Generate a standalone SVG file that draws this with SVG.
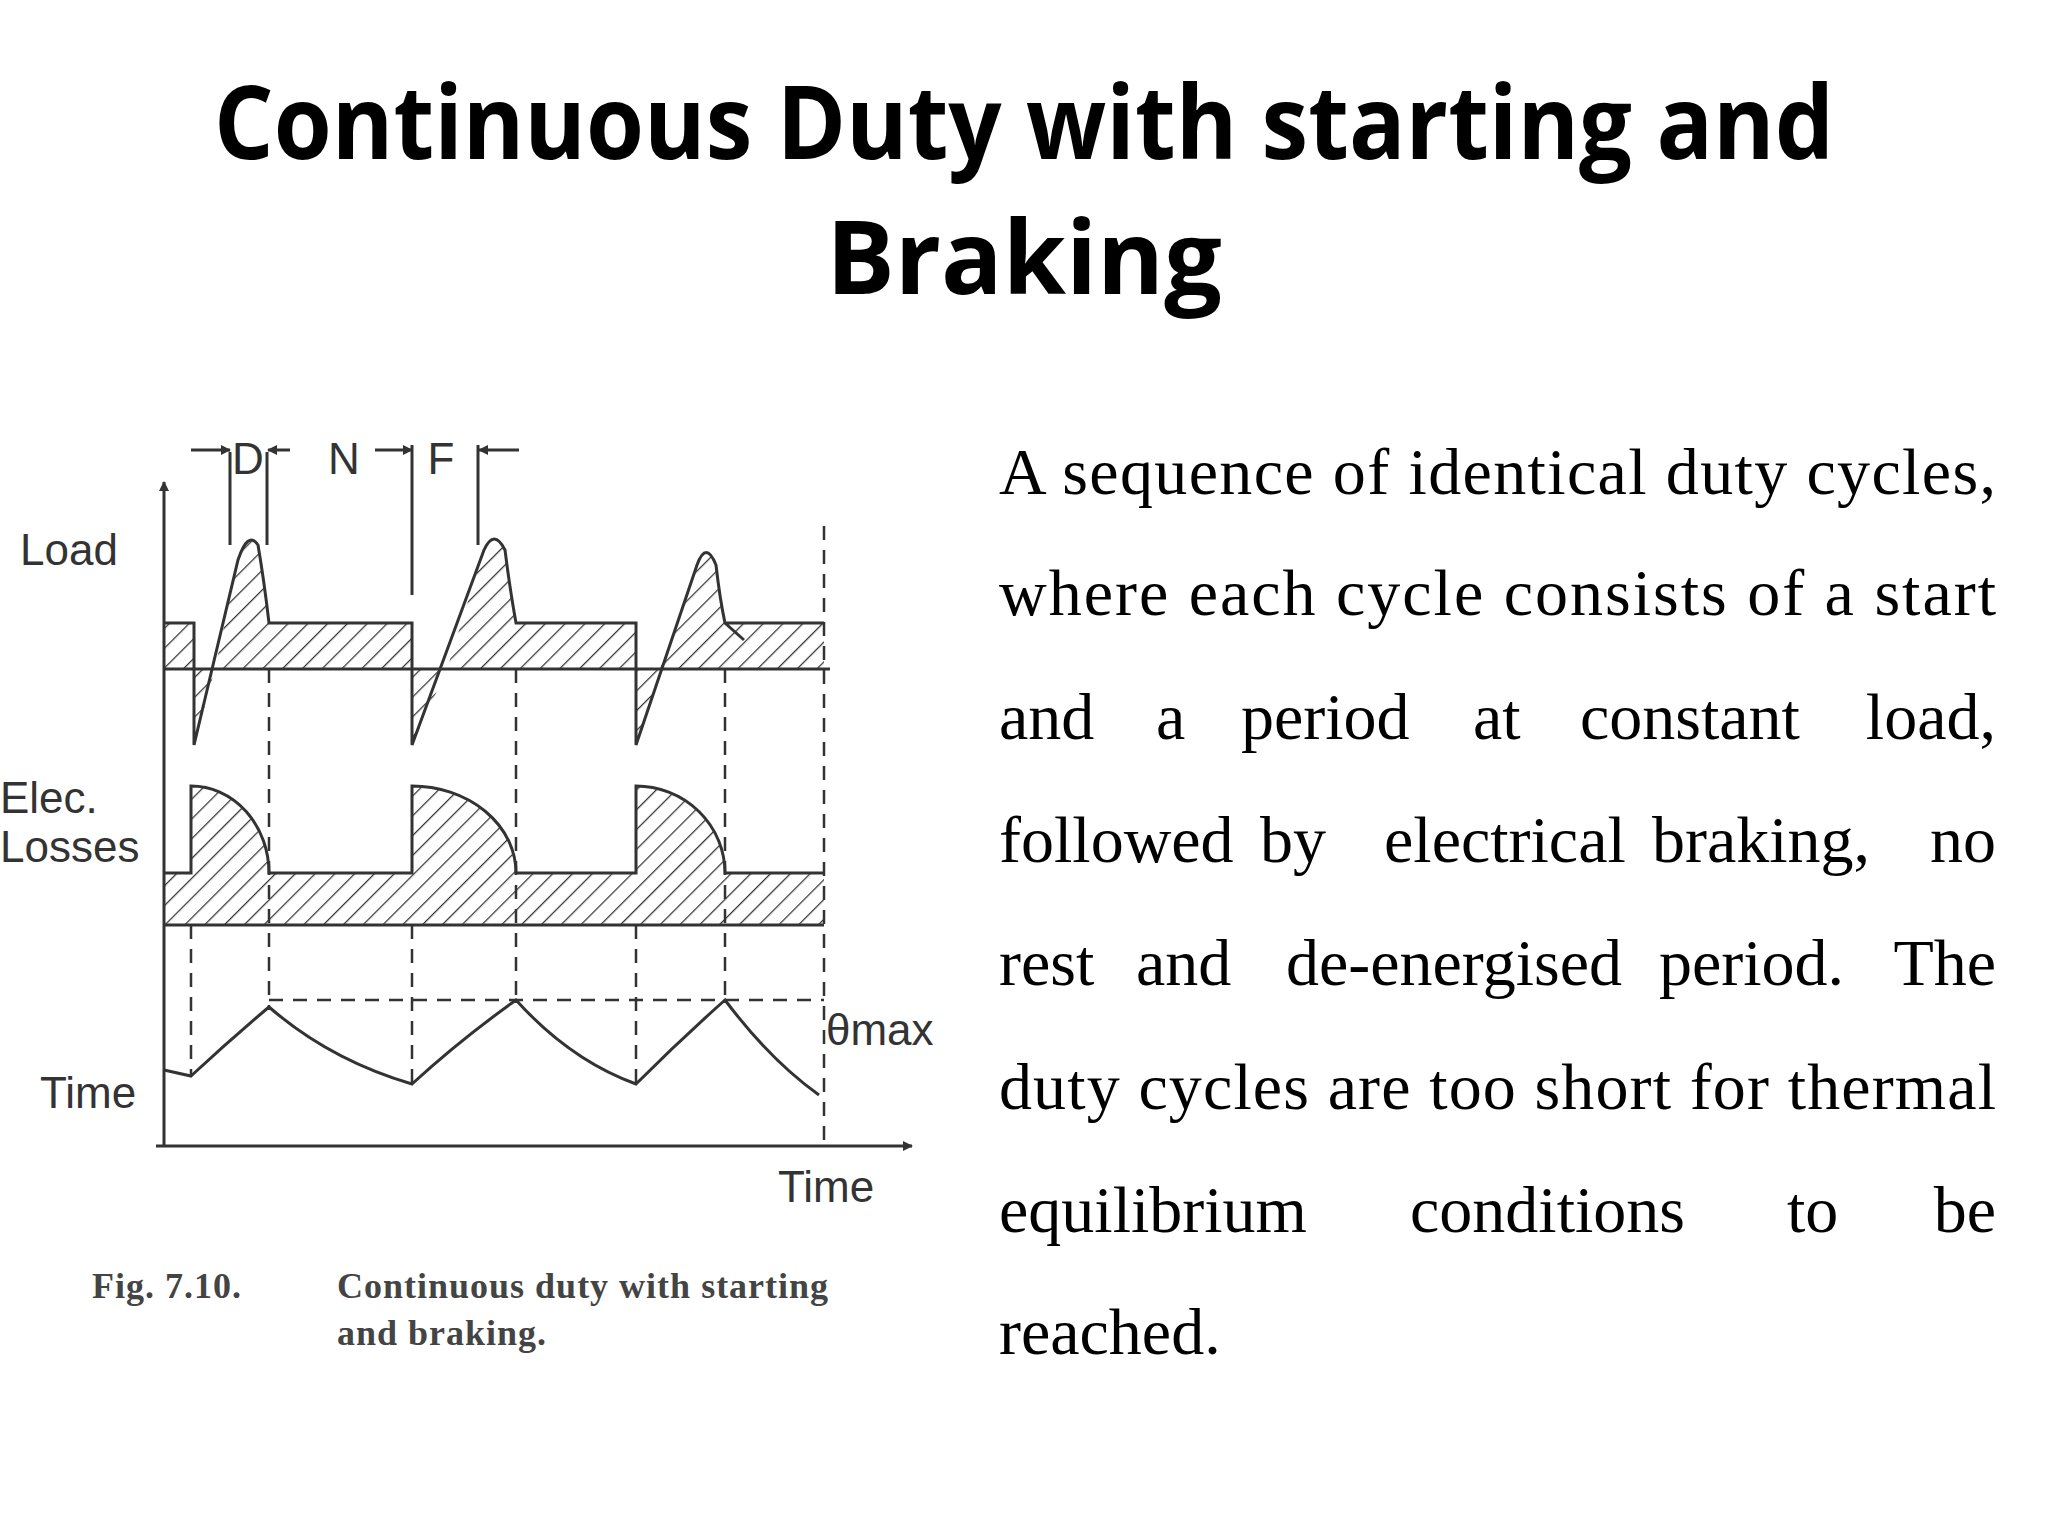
<svg xmlns="http://www.w3.org/2000/svg" width="2048" height="1536" viewBox="0 0 2048 1536">
<style>
.ln{fill:none;stroke:#333;stroke-width:3}
.ds{fill:none;stroke:#333;stroke-width:2.5;stroke-dasharray:14 10}
.h{fill:url(#hatch);stroke:none}
.lab{font-family:"Liberation Sans",Arial,sans-serif;font-size:44px;fill:#333}
.cap{font-family:"Liberation Serif",serif;font-size:36px;fill:#444;font-weight:bold;letter-spacing:1px}
.body{font-family:"Liberation Serif","Times New Roman",serif;font-size:66px;fill:#000}
.title{font-family:"Open Sans",sans-serif;font-weight:bold;font-size:102px;fill:#000}
</style>
<defs>
<pattern id="hatch" width="14" height="14" patternUnits="userSpaceOnUse" patternTransform="rotate(45)">
<line x1="0" y1="0" x2="0" y2="14" stroke="#333" stroke-width="2.5"/>
</pattern>
<marker id="ar" markerWidth="10" markerHeight="10" refX="9" refY="5" orient="auto" markerUnits="userSpaceOnUse"><path d="M0,0 L10,5 L0,10 Z" fill="#333"/></marker>
</defs>
<rect width="2048" height="1536" fill="#fff"/>
<g id="title">
<text class="title" x="1024" y="159" text-anchor="middle" textLength="1620" lengthAdjust="spacingAndGlyphs">Continuous Duty with starting and</text>
<text class="title" x="1024" y="294" text-anchor="middle">Braking</text>
</g>
<g id="figure">
<g id="axes">
<line class="ln" x1="164" y1="1146" x2="164" y2="482" marker-end="url(#ar)"/>
<line class="ln" x1="156" y1="1146" x2="912" y2="1146" marker-end="url(#ar)"/>
</g>
<g id="load">
<rect class="h" x="164" y="623" width="30" height="46"/>
<path class="h" d="M194,669 V745 L215,669 Z M215,669 L238,560 Q248,530 258,545 Q264,580 269,623 H412 V669 Z"/>
<path class="h" d="M412,669 V745 L447,669 Z M447,669 L484,550 Q494,528 505,550 Q510,590 516,623 H636 V669 Z"/>
<path class="h" d="M636,669 V745 L660,669 Z M660,669 L697,565 Q706,540 716,565 Q720,600 725,623 H824 V669 Z"/>
<path class="ln" d="M164,623 H194 V745 L238,560 Q248,530 258,545 Q264,580 269,623 H412 V745 L484,550 Q494,528 505,550 Q510,590 516,623 H636 V745 L697,565 Q706,540 716,565 Q720,600 725,623 L744,640 M725,623 H824"/>
<line class="ln" x1="164" y1="669" x2="830" y2="669"/>
</g>
<g id="losses">
<path class="h" d="M164,925 V873 H191 V786 A78,87 0 0 1 269,873 H412 V786 A104,87 0 0 1 516,873 H636 V786 A89,87 0 0 1 725,873 H824 V925 Z"/>
<path class="ln" d="M164,873 H191 V786 A78,87 0 0 1 269,873 H412 V786 A104,87 0 0 1 516,873 H636 V786 A89,87 0 0 1 725,873 H824"/>
<line class="ln" x1="164" y1="925" x2="824" y2="925"/>
</g>
<g id="temperature">
<path class="ln" d="M164,1070 L191,1076 Q230,1040 269,1007 Q330,1060 412,1084 Q460,1040 516,1000 Q570,1060 636,1084 Q680,1040 725,1000 Q770,1060 819,1095"/>
<line class="ds" x1="269" y1="1000" x2="824" y2="1000"/>
</g>
<g id="guides">
<line class="ds" x1="191" y1="925" x2="191" y2="1076"/>
<line class="ds" x1="269" y1="669" x2="269" y2="1007"/>
<line class="ds" x1="412" y1="925" x2="412" y2="1084"/>
<line class="ds" x1="516" y1="669" x2="516" y2="1000"/>
<line class="ds" x1="636" y1="925" x2="636" y2="1084"/>
<line class="ds" x1="725" y1="669" x2="725" y2="1000"/>
<line class="ds" x1="824" y1="526" x2="824" y2="1146"/>
</g>
<g id="markers">
<line class="ln" x1="230" y1="452" x2="230" y2="545"/>
<line class="ln" x1="267" y1="452" x2="267" y2="545"/>
<line class="ln" x1="412" y1="445" x2="412" y2="595"/>
<line class="ln" x1="478" y1="445" x2="478" y2="545"/>
<line class="ln" x1="191" y1="450" x2="230" y2="450" marker-end="url(#ar)"/>
<line class="ln" x1="290" y1="450" x2="268" y2="450" marker-end="url(#ar)"/>
<line class="ln" x1="375" y1="450" x2="412" y2="450" marker-end="url(#ar)"/>
<line class="ln" x1="519" y1="450" x2="479" y2="450" marker-end="url(#ar)"/>
<text class="lab" x="248" y="474" text-anchor="middle">D</text>
<text class="lab" x="344" y="474" text-anchor="middle">N</text>
<text class="lab" x="441" y="474" text-anchor="middle">F</text>
</g>
<g id="labels">
<text class="lab" x="20" y="565">Load</text>
<text class="lab" x="0" y="813">Elec.</text>
<text class="lab" x="0" y="862">Losses</text>
<text class="lab" x="40" y="1108">Time</text>
<text class="lab" x="826" y="1045">θmax</text>
<text class="lab" x="778" y="1202">Time</text>
<text class="cap" x="92" y="1298">Fig. 7.10.</text>
<text class="cap" x="337" y="1298">Continuous duty with starting</text>
<text class="cap" x="337" y="1345">and braking.</text>
</g>
</g>
<g id="body">
<text class="body" x="999" y="494" textLength="997" lengthAdjust="spacing">A sequence of identical duty cycles,</text>
<text class="body" x="999" y="615" textLength="997" lengthAdjust="spacing">where each cycle consists of a start</text>
<text class="body" y="739"><tspan x="999">and</tspan><tspan x="1156">a</tspan><tspan x="1241">period</tspan><tspan x="1473">at</tspan><tspan x="1580">constant</tspan></text>
<text class="body" x="1996" y="739" text-anchor="end">load,</text>
<text class="body" y="862"><tspan x="999">followed</tspan><tspan x="1260">by</tspan><tspan x="1384">electrical</tspan><tspan x="1652">braking,</tspan></text>
<text class="body" x="1996" y="862" text-anchor="end">no</text>
<text class="body" y="985"><tspan x="999">rest</tspan><tspan x="1136">and</tspan><tspan x="1286">de-energised</tspan><tspan x="1659">period.</tspan></text>
<text class="body" x="1996" y="985" text-anchor="end">The</text>
<text class="body" x="999" y="1109" textLength="997" lengthAdjust="spacing">duty cycles are too short for thermal</text>
<text class="body" y="1232"><tspan x="999">equilibrium</tspan><tspan x="1410">conditions</tspan><tspan x="1787">to</tspan></text>
<text class="body" x="1996" y="1232" text-anchor="end">be</text>
<text class="body" x="999" y="1354">reached.</text>
</g>
</svg>
